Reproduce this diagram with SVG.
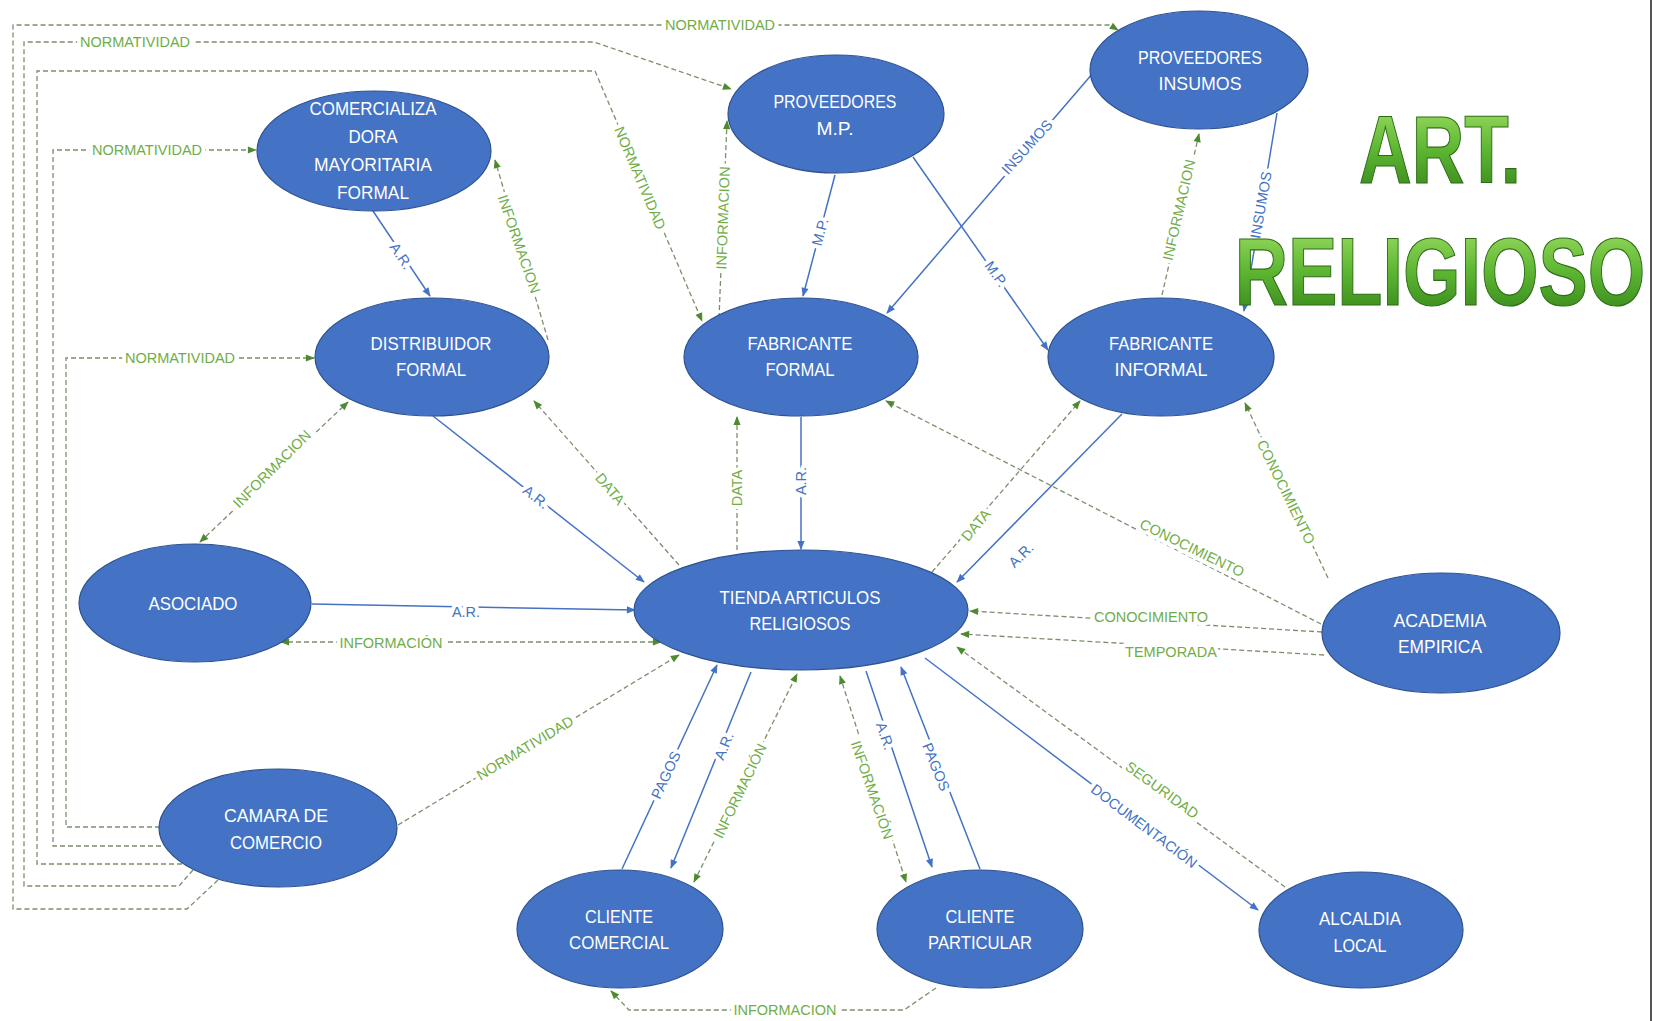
<svg xmlns="http://www.w3.org/2000/svg" width="1664" height="1021" viewBox="0 0 1664 1021">
<defs>
<style>
.n ellipse{fill:#4472C4;stroke:#2F528F;stroke-width:1.2}
.n text{fill:#fff;font-family:"Liberation Sans",Arial,sans-serif;font-size:19px;text-anchor:middle}
.b{stroke:#4472C4;stroke-width:1.5;fill:none;marker-end:url(#ab)}
.g{stroke:#7C8F6C;stroke-width:1.3;stroke-dasharray:5 3;fill:none;marker-end:url(#ag)}
.g2{marker-start:url(#ag)}
.lb,.lg{font-family:"Liberation Sans",Arial,sans-serif;font-size:14.5px;text-anchor:middle;dominant-baseline:central;stroke:#fff;stroke-width:8px;stroke-linejoin:round;paint-order:stroke}
.lb{fill:#4472C4}
.lg{fill:#70AD47}
.title{font-family:"Liberation Sans",Arial,sans-serif;font-weight:bold;font-size:96px;text-anchor:middle;fill:url(#tg);stroke:#2E6B17;stroke-width:1.2}
</style>
<marker id="ab" viewBox="0 0 10 10" refX="9" refY="5" markerWidth="10" markerHeight="9" markerUnits="userSpaceOnUse" orient="auto-start-reverse"><path d="M0,1 L10,5 L0,9 z" fill="#4472C4"/></marker>
<marker id="ag" viewBox="0 0 10 10" refX="9" refY="5" markerWidth="10" markerHeight="9" markerUnits="userSpaceOnUse" orient="auto-start-reverse"><path d="M0,1 L10,5 L0,9 z" fill="#4E8A2E"/></marker>
<linearGradient id="tg" x1="0" y1="0" x2="0" y2="1">
<stop offset="0" stop-color="#A6E36A"/>
<stop offset="0.5" stop-color="#5DB632"/>
<stop offset="1" stop-color="#2F7F16"/>
</linearGradient>
</defs>
<rect width="1664" height="1021" fill="#fff"/>
<line x1="1651" y1="0" x2="1651" y2="1021" stroke="#555" stroke-width="2"/>

<g id="connectors">
<path class="g" d="M160 827 H66 V358 H314"/>
<path class="g" d="M161 846 H53 V150 H256"/>
<path class="g" d="M182 864 H37 V71 H595 L702 321"/>
<path class="g" d="M193 870 L179 886 H24 V42 H594 L731 89"/>
<path class="g" d="M218 880 L187 909 H13 V25 H1110 L1118 30"/>
<text class="lg" x="180" y="358">NORMATIVIDAD</text>
<text class="lg" x="147" y="150">NORMATIVIDAD</text>
<text class="lg" transform="translate(640,178) rotate(67)">NORMATIVIDAD</text>
<text class="lg" x="135" y="42">NORMATIVIDAD</text>
<text class="lg" x="720" y="25">NORMATIVIDAD</text>

<path class="b" d="M373 211 L430 296"/>
<text class="lb" transform="translate(401,256) rotate(56)">A.R.</text>
<path class="b" d="M433 416 L644 582"/>
<text class="lb" transform="translate(536,497) rotate(38)">A.R.</text>
<path class="b" d="M312 604 L635 610"/>
<text class="lb" x="466" y="612">A.R.</text>
<path class="b" d="M835 175 L803 296"/>
<text class="lb" transform="translate(820,232) rotate(-75)">M.P.</text>
<path class="b" d="M913 157 L1048 350"/>
<text class="lb" transform="translate(996,274) rotate(55)">M.P.</text>
<path class="b" d="M1093 73 L887 313"/>
<text class="lb" transform="translate(1027,147) rotate(-48)">INSUMOS</text>
<path class="b" d="M1277 113 L1244 311"/>
<text class="lb" transform="translate(1261,205) rotate(-80)">INSUMOS</text>
<path class="b" d="M801 417 L801 549"/>
<text class="lb" transform="translate(801,481) rotate(-90)">A.R.</text>
<path class="b" d="M1122 414 L957 582"/>
<text class="lb" transform="translate(1021,555) rotate(-45)">A.R.</text>
<path class="b" d="M751 672 L671 868"/>
<text class="lb" transform="translate(724,746) rotate(-68)">A.R.</text>
<path class="b" d="M622 869 L717 665"/>
<text class="lb" transform="translate(666,775) rotate(-65)">PAGOS</text>
<path class="b" d="M866 671 L932 867"/>
<text class="lb" transform="translate(885,736) rotate(71)">A.R.</text>
<path class="b" d="M980 869 L901 667"/>
<text class="lb" transform="translate(936,767) rotate(68)">PAGOS</text>
<path class="b" d="M925 658 L1258 910"/>
<text class="lb" transform="translate(1144,826) rotate(37)">DOCUMENTACIÓN</text>

<path class="g" d="M548 340 L495 160"/>
<text class="lg" transform="translate(519,244) rotate(71)">INFORMACION</text>
<path class="g g2" d="M200 542 L348 402"/>
<text class="lg" transform="translate(272,469) rotate(-45)">INFORMACION</text>
<path class="g" d="M679 565 L534 401"/>
<text class="lg" transform="translate(610,489) rotate(50)">DATA</text>
<path class="g" d="M737 550 L737 417"/>
<text class="lg" transform="translate(737,488) rotate(-90)">DATA</text>
<path class="g" d="M932 572 L1080 401"/>
<text class="lg" transform="translate(976,525) rotate(-50)">DATA</text>
<path class="g" d="M1321 624 L886 401"/>
<text class="lg" transform="translate(1192,548) rotate(26)">CONOCIMIENTO</text>
<path class="g" d="M1328 578 L1245 403"/>
<text class="lg" transform="translate(1286,492) rotate(64)">CONOCIMIENTO</text>
<path class="g" d="M1322 632 L970 611"/>
<text class="lg" x="1151" y="617">CONOCIMIENTO</text>
<path class="g" d="M1324 655 L961 634"/>
<text class="lg" x="1171" y="652">TEMPORADA</text>
<path class="g g2" d="M661 642 L281 642"/>
<text class="lg" x="391" y="643">INFORMACIÓN</text>
<path class="g" d="M398 825 L679 655"/>
<text class="lg" transform="translate(525,748) rotate(-31)">NORMATIVIDAD</text>
<path class="g g2" d="M694 882 L797 674"/>
<text class="lg" transform="translate(740,791) rotate(-64)">INFORMACIÓN</text>
<path class="g g2" d="M840 676 L906 882"/>
<text class="lg" transform="translate(872,790) rotate(71)">INFORMACIÓN</text>
<path class="g" d="M936 988 L904 1010 H629 L611 991"/>
<text class="lg" x="785" y="1010">INFORMACION</text>
<path class="g" d="M1285 887 L957 647"/>
<text class="lg" transform="translate(1162,790) rotate(36)">SEGURIDAD</text>
<path class="g" d="M719 318 L727 121"/>
<text class="lg" transform="translate(723,218) rotate(-88)">INFORMACION</text>
<path class="g" d="M1162 295 L1199 134"/>
<text class="lg" transform="translate(1179,210) rotate(-77)">INFORMACION</text>
</g>

<g id="n-prov-insumos" class="n"><ellipse cx="1199" cy="70" rx="109" ry="59"/>
<text x="1200" y="64" textLength="124" lengthAdjust="spacingAndGlyphs">PROVEEDORES</text>
<text x="1200" y="90" textLength="83" lengthAdjust="spacingAndGlyphs">INSUMOS</text></g>

<g id="n-prov-mp" class="n"><ellipse cx="836" cy="114" rx="108" ry="59"/>
<text x="835" y="108" textLength="123" lengthAdjust="spacingAndGlyphs">PROVEEDORES</text>
<text x="835" y="135" textLength="37" lengthAdjust="spacingAndGlyphs">M.P.</text></g>

<g id="n-comercializadora" class="n"><ellipse cx="374" cy="151" rx="117" ry="60"/>
<text x="373" y="115" textLength="127" lengthAdjust="spacingAndGlyphs">COMERCIALIZA</text>
<text x="373" y="143" textLength="49" lengthAdjust="spacingAndGlyphs">DORA</text>
<text x="373" y="171" textLength="118" lengthAdjust="spacingAndGlyphs">MAYORITARIA</text>
<text x="373" y="199" textLength="72" lengthAdjust="spacingAndGlyphs">FORMAL</text></g>

<g id="n-distribuidor" class="n"><ellipse cx="432" cy="357" rx="117" ry="59"/>
<text x="431" y="350" textLength="121" lengthAdjust="spacingAndGlyphs">DISTRIBUIDOR</text>
<text x="431" y="376" textLength="70" lengthAdjust="spacingAndGlyphs">FORMAL</text></g>

<g id="n-fab-formal" class="n"><ellipse cx="801" cy="357" rx="117" ry="59"/>
<text x="800" y="350" textLength="105" lengthAdjust="spacingAndGlyphs">FABRICANTE</text>
<text x="800" y="376" textLength="69" lengthAdjust="spacingAndGlyphs">FORMAL</text></g>

<g id="n-fab-informal" class="n"><ellipse cx="1161" cy="357" rx="113" ry="59"/>
<text x="1161" y="350" textLength="104" lengthAdjust="spacingAndGlyphs">FABRICANTE</text>
<text x="1161" y="376" textLength="93" lengthAdjust="spacingAndGlyphs">INFORMAL</text></g>

<g id="n-asociado" class="n"><ellipse cx="195" cy="603" rx="116" ry="59"/>
<text x="193" y="610" textLength="89" lengthAdjust="spacingAndGlyphs">ASOCIADO</text></g>

<g id="n-tienda" class="n"><ellipse cx="801" cy="610" rx="167" ry="60"/>
<text x="800" y="604" textLength="161" lengthAdjust="spacingAndGlyphs">TIENDA ARTICULOS</text>
<text x="800" y="630" textLength="101" lengthAdjust="spacingAndGlyphs">RELIGIOSOS</text></g>

<g id="n-academia" class="n"><ellipse cx="1441" cy="633" rx="119" ry="60"/>
<text x="1440" y="627" textLength="93" lengthAdjust="spacingAndGlyphs">ACADEMIA</text>
<text x="1440" y="653" textLength="84" lengthAdjust="spacingAndGlyphs">EMPIRICA</text></g>

<g id="n-camara" class="n"><ellipse cx="278" cy="828" rx="119" ry="59"/>
<text x="276" y="822" textLength="104" lengthAdjust="spacingAndGlyphs">CAMARA DE</text>
<text x="276" y="849" textLength="92" lengthAdjust="spacingAndGlyphs">COMERCIO</text></g>

<g id="n-cliente-comercial" class="n"><ellipse cx="620" cy="929" rx="103" ry="59"/>
<text x="619" y="923" textLength="68" lengthAdjust="spacingAndGlyphs">CLIENTE</text>
<text x="619" y="949" textLength="100" lengthAdjust="spacingAndGlyphs">COMERCIAL</text></g>

<g id="n-cliente-particular" class="n"><ellipse cx="980" cy="929" rx="103" ry="59"/>
<text x="980" y="923" textLength="69" lengthAdjust="spacingAndGlyphs">CLIENTE</text>
<text x="980" y="949" textLength="104" lengthAdjust="spacingAndGlyphs">PARTICULAR</text></g>

<g id="n-alcaldia" class="n"><ellipse cx="1361" cy="930" rx="102" ry="58"/>
<text x="1360" y="925" textLength="82" lengthAdjust="spacingAndGlyphs">ALCALDIA</text>
<text x="1360" y="952" textLength="53" lengthAdjust="spacingAndGlyphs">LOCAL</text></g>

<g id="title">
<text class="title" transform="translate(1440,183) scale(0.76,1)" x="0" y="0">ART.</text>
<text class="title" transform="translate(1440,305) scale(0.77,1)" x="0" y="0">RELIGIOSO</text>
</g>
</svg>
